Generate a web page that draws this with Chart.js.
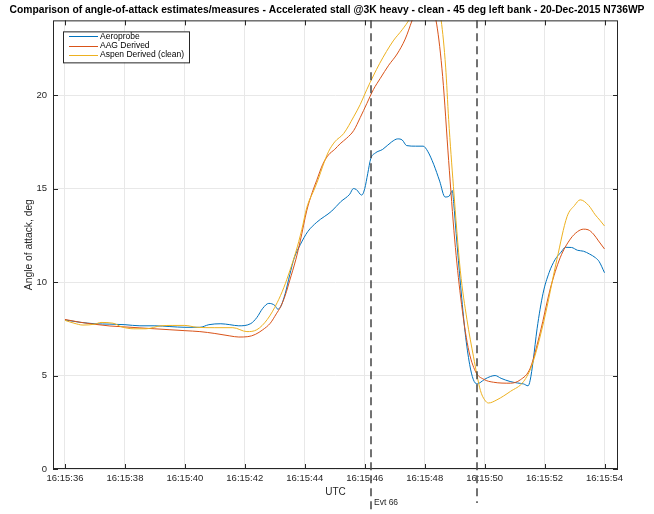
<!DOCTYPE html>
<html>
<head>
<meta charset="utf-8">
<script src="https://cdn.jsdelivr.net/npm/chart.js@4.4.0/dist/chart.umd.min.js"></script>
<style>
    html, body { margin: 0; padding: 0; background: #fff; }
</style>
</head>
<body>
<canvas id="aoa-chart" width="654" height="514"></canvas>
<script>
    // seconds past 16:15
    const aeroTime = [36.0, 36.5, 37.0, 37.5, 38.0, 38.5, 39.0, 39.5, 40.0, 40.5, 40.8, 41.2, 41.5, 41.8, 42.2, 42.4, 42.6, 42.8, 43.0, 43.1, 43.2, 43.35, 43.5, 43.65, 43.85, 44.1, 44.4, 44.9, 45.2, 45.5, 45.62, 45.72, 45.9, 46.0, 46.1, 46.2, 46.35, 46.6, 46.9, 47.1, 47.25, 47.4, 47.7, 47.95, 48.1, 48.3, 48.5, 48.68, 48.82, 48.92, 48.97, 49.05, 49.2, 49.35, 49.5, 49.62, 49.75, 49.85, 50.0, 50.2, 50.35, 50.55, 50.85, 51.1, 51.3, 51.45, 51.52, 51.62, 51.75, 51.95, 52.15, 52.35, 52.55, 52.7, 52.9, 53.1, 53.3, 53.5, 53.7, 53.82, 54.0];
    const aeroAoa = [7.97, 7.85, 7.77, 7.75, 7.72, 7.66, 7.66, 7.62, 7.58, 7.58, 7.72, 7.77, 7.72, 7.66, 7.78, 8.1, 8.6, 8.86, 8.75, 8.55, 8.7, 9.4, 10.4, 11.3, 12.0, 12.7, 13.2, 13.8, 14.3, 14.7, 15.0, 14.95, 14.65, 15.0, 15.8, 16.6, 16.9, 17.1, 17.5, 17.66, 17.6, 17.3, 17.27, 17.27, 17.0, 16.3, 15.4, 14.55, 14.6, 14.9, 14.2, 12.6, 9.8, 7.3, 5.6, 4.8, 4.55, 4.62, 4.8, 4.95, 5.0, 4.85, 4.68, 4.6, 4.55, 4.45, 4.75, 5.8, 7.5, 9.4, 10.5, 11.2, 11.6, 11.86, 11.85, 11.7, 11.65, 11.5, 11.3, 11.1, 10.5];

    const aagTime = [36.0, 36.5, 37.0, 37.5, 38.0, 38.5, 39.0, 39.5, 40.0, 40.5, 41.0, 41.5, 41.8, 42.1, 42.35, 42.6, 42.85, 43.05, 43.2, 43.35, 43.5, 43.7, 43.85, 44.07, 44.25, 44.4, 44.6, 44.79, 45.0, 45.18, 45.4, 45.63, 45.85, 46.07, 46.29, 46.52, 46.8, 47.08, 47.35, 47.58, 47.8, 48.0, 48.2, 48.4, 48.6, 48.8, 49.0, 49.2, 49.45, 49.7, 49.97, 50.3, 50.86, 51.19, 51.52, 51.86, 52.19, 52.52, 52.86, 53.1, 53.3, 53.45, 53.63, 53.8, 54.0];
    const aagAoa = [8.0, 7.85, 7.74, 7.65, 7.6, 7.55, 7.5, 7.45, 7.4, 7.35, 7.25, 7.12, 7.06, 7.08, 7.2, 7.45, 7.8, 8.3, 8.7, 9.3, 10.1, 11.2, 12.2, 13.85, 14.8, 15.45, 16.3, 16.8, 17.1, 17.4, 17.7, 18.1, 18.8, 19.55, 20.3, 20.9, 21.6, 22.2, 23.0, 24.0, 25.0, 25.4, 24.9, 23.8, 21.0, 16.5, 12.3, 9.2, 6.5, 5.2, 4.8, 4.64, 4.59, 4.77, 5.39, 7.34, 9.64, 11.3, 12.3, 12.7, 12.83, 12.8, 12.57, 12.2, 11.77];

    const aspenTime = [36.0, 36.3, 36.6, 37.0, 37.2, 37.6, 37.9, 38.3, 38.7, 39.2, 39.6, 40.0, 40.4, 41.0, 41.6, 42.07, 42.4, 42.75, 43.08, 43.3, 43.5, 43.7, 43.9, 44.07, 44.3, 44.45, 44.6, 44.79, 45.0, 45.3, 45.63, 45.85, 46.07, 46.5, 46.95, 47.25, 47.5, 47.8, 48.1, 48.35, 48.55, 48.7, 48.8, 48.96, 49.19, 49.41, 49.63, 49.86, 50.0, 50.13, 50.41, 50.86, 51.3, 51.58, 51.97, 52.41, 52.75, 53.0, 53.19, 53.47, 53.69, 53.85, 54.0];
    const aspenAoa = [7.95, 7.8, 7.7, 7.75, 7.84, 7.8, 7.6, 7.5, 7.5, 7.66, 7.68, 7.68, 7.58, 7.56, 7.56, 7.35, 7.45, 8.0, 8.9, 9.7, 10.6, 11.6, 12.8, 14.0, 14.9, 15.5, 16.2, 16.97, 17.5, 17.95, 18.84, 19.5, 20.3, 21.7, 22.9, 23.5, 24.1, 25.3, 25.8, 25.4, 24.0, 21.5, 18.7, 15.1, 10.6, 8.0, 6.0, 4.2, 3.7, 3.53, 3.7, 4.15, 4.68, 5.56, 7.87, 11.2, 13.5, 14.1, 14.4, 14.1, 13.6, 13.3, 13.0];

    const xTickSeconds = [36, 38, 40, 42, 44, 46, 48, 50, 52, 54];
    const yTicks = [0, 5, 10, 15, 20];
    const eventTimes = [46.2, 49.75];
    const eventLabels = ['Evt 66', ''];

    const seriesLabels = ['Aeroprobe', 'AAG Derived', 'Aspen Derived (clean)'];
    const seriesColors = ['#0072BD', '#D95319', '#EDB120'];

    const axisColor = '#262626';
    const baseFont = 'Arial, "Liberation Sans", sans-serif';

    function toPoints(times, values) {
        return times.map((t, i) => ({ x: t, y: values[i] }));
    }

    // box around the axes with inward ticks, like the source figure
    const axesBox = {
        id: 'axesBox',
        afterDatasetsDraw(chart) {
            const { ctx, chartArea: a, scales } = chart;
            ctx.save();
            ctx.strokeStyle = axisColor;
            ctx.lineWidth = 1;
            ctx.strokeRect(a.left + 0.5, a.top + 0.5, a.right - a.left - 1, a.bottom - a.top - 1);
            ctx.beginPath();
            xTickSeconds.forEach(v => {
                const px = Math.round(scales.x.getPixelForValue(v)) + 0.5;
                ctx.moveTo(px, a.bottom); ctx.lineTo(px, a.bottom - 5);
                ctx.moveTo(px, a.top); ctx.lineTo(px, a.top + 5);
            });
            yTicks.forEach(v => {
                const py = Math.round(scales.y.getPixelForValue(v)) + 0.5;
                ctx.moveTo(a.left, py); ctx.lineTo(a.left + 5, py);
                ctx.moveTo(a.right, py); ctx.lineTo(a.right - 5, py);
            });
            ctx.stroke();
            ctx.restore();
        }
    };

    const eventLines = {
        id: 'eventLines',
        afterDraw(chart) {
            const { ctx, chartArea: a, scales } = chart;
            ctx.save();
            ctx.strokeStyle = '#444';
            ctx.lineWidth = 1.5;
            ctx.setLineDash([8, 5]);
            eventTimes.forEach((t, i) => {
                const px = Math.round(scales.x.getPixelForValue(t));
                ctx.beginPath();
                ctx.moveTo(px, a.top);
                ctx.lineTo(px, a.bottom + (i === 0 ? 41 : 34));
                ctx.stroke();
                if (eventLabels[i]) {
                    ctx.fillStyle = axisColor;
                    ctx.font = '8.5px ' + baseFont;
                    ctx.textBaseline = 'middle';
                    ctx.fillText(eventLabels[i], px + 3, a.bottom + 34);
                }
            });
            ctx.restore();
        }
    };

    const boxLegend = {
        id: 'boxLegend',
        afterDraw(chart) {
            const { ctx, chartArea: a } = chart;
            const x0 = a.left + 10, y0 = a.top + 11;
            ctx.save();
            ctx.fillStyle = '#fff';
            ctx.fillRect(x0, y0, 126, 31);
            ctx.strokeStyle = axisColor;
            ctx.lineWidth = 1;
            ctx.strokeRect(x0 + 0.5, y0 + 0.5, 126, 31);
            ctx.font = '8.5px ' + baseFont;
            ctx.textBaseline = 'middle';
            chart.data.datasets.forEach((ds, i) => {
                const y = y0 + 5 + i * 9.3;
                ctx.strokeStyle = ds.borderColor;
                ctx.beginPath();
                ctx.moveTo(x0 + 6, Math.round(y) + 0.5);
                ctx.lineTo(x0 + 35, Math.round(y) + 0.5);
                ctx.stroke();
                ctx.fillStyle = '#000';
                ctx.fillText(ds.label, x0 + 37, y);
            });
            ctx.restore();
        }
    };

    const ctx = document.getElementById('aoa-chart');

    new Chart(ctx, {
        type: 'line',
        data: {
            datasets: [
                { label: seriesLabels[0], data: toPoints(aeroTime, aeroAoa), borderColor: seriesColors[0], order: 2 },
                { label: seriesLabels[1], data: toPoints(aagTime, aagAoa), borderColor: seriesColors[1], order: 1 },
                { label: seriesLabels[2], data: toPoints(aspenTime, aspenAoa), borderColor: seriesColors[2], order: 0 }
            ]
        },
        options: {
            responsive: false,
            animation: false,
            parsing: false,
            datasets: {
                line: {
                    borderWidth: 1,
                    pointRadius: 0,
                    cubicInterpolationMode: 'monotone',
                    fill: false
                }
            },
            layout: { padding: 0 },
            plugins: {
                legend: { display: false },
                tooltip: { enabled: false },
                title: {
                    display: true,
                    text: 'Comparison of angle-of-attack estimates/measures - Accelerated stall @3K heavy - clean - 45 deg left bank - 20-Dec-2015 N736WP',
                    color: '#000',
                    font: { family: baseFont, size: 10.3, weight: 'bold' },
                    padding: { top: 4, bottom: 4 }
                }
            },
            scales: {
                x: {
                    type: 'linear',
                    min: 35.6,
                    max: 54.45,
                    afterBuildTicks: scale => { scale.ticks = xTickSeconds.map(v => ({ value: v })); },
                    afterFit: scale => { scale.height = 45; },
                    ticks: {
                        callback: v => '16:15:' + String(v).padStart(2, '0'),
                        autoSkip: false,
                        maxRotation: 0,
                        color: axisColor,
                        font: { family: baseFont, size: 9.5 },
                        padding: 4
                    },
                    grid: { color: '#e8e8e8', drawTicks: false },
                    border: { display: false },
                    title: {
                        display: true,
                        text: 'UTC',
                        color: axisColor,
                        font: { family: baseFont, size: 10 },
                        padding: { top: 0, bottom: 16 }
                    }
                },
                y: {
                    min: 0,
                    max: 24,
                    afterBuildTicks: scale => { scale.ticks = yTicks.map(v => ({ value: v })); },
                    afterFit: scale => { scale.width = 53; },
                    ticks: {
                        color: axisColor,
                        font: { family: baseFont, size: 9.5 },
                        padding: 6
                    },
                    grid: { color: '#e8e8e8', drawTicks: false },
                    border: { display: false },
                    title: {
                        display: true,
                        text: 'Angle of attack, deg',
                        color: axisColor,
                        font: { family: baseFont, size: 10.3 },
                        padding: { top: 23, bottom: 0 }
                    }
                },
                // empty right margin so the title can centre on the full width
                yRight: {
                    position: 'right',
                    min: 0,
                    max: 24,
                    afterFit: scale => { scale.width = 36; },
                    ticks: { display: false },
                    grid: { display: false },
                    border: { display: false }
                }
            }
        },
        plugins: [axesBox, eventLines, boxLegend]
    });
</script>
</body>
</html>
